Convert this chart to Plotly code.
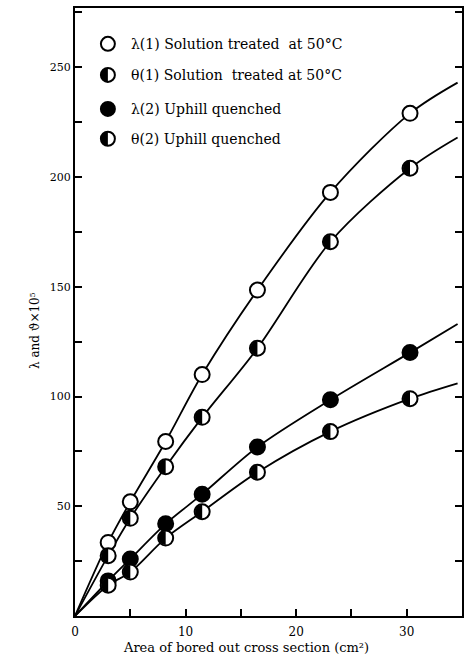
import plotly.graph_objects as go

# Bored-out cross-section area (cm^2) at each measurement
area = [3.0, 5.0, 8.2, 11.5, 16.5, 23.1, 30.3]

# lambda and theta (x10^5) for the two heat treatments
lam1 = [33.5, 52, 79.5, 110, 148.5, 193, 229]
theta1 = [27.5, 44.5, 68, 90.5, 122, 170.5, 204]
lam2 = [16, 26, 42, 55.5, 77, 98.5, 120]
theta2 = [14, 20, 35.5, 47.5, 65.5, 84, 99]

# Where each smooth curve ends at the right edge of the plot
curve_end_x = 34.6
lam1_end = 243
theta1_end = 218
lam2_end = 133
theta2_end = 106

x_ticks = [0, 10, 20, 30]
y_ticks = [50, 100, 150, 200, 250]

labels = [
    "λ(1) Solution treated  at 50°C",
    "θ(1) Solution  treated at 50°C",
    "λ(2) Uphill quenched",
    "θ(2) Uphill quenched",
]

FONT = "DejaVu Serif"
R = 7  # marker radius in pixels
K = 0.5523 * R

fig = go.Figure()

series = [
    (lam1, lam1_end, "open"),
    (theta1, theta1_end, "half"),
    (lam2, lam2_end, "full"),
    (theta2, theta2_end, "half"),
]

# Smooth fitted curves from the origin through the points
for vals, end, _ in series:
    fig.add_trace(go.Scatter(
        x=[0] + area + [curve_end_x], y=[0] + vals + [end],
        mode="lines", line=dict(color="black", width=1.8, shape="spline", smoothing=0.9),
        hoverinfo="skip", showlegend=False,
    ))

# Markers
for vals, _, kind in series:
    fill = "black" if kind == "full" else "white"
    fig.add_trace(go.Scatter(
        x=area, y=vals, mode="markers",
        marker=dict(symbol="circle", size=2 * R + 1, color=fill,
                    line=dict(color="black", width=2)),
        showlegend=False,
    ))

# Left half of a circle, in pixels about its anchor
half_path = (f"M 0,{R} C {-K},{R} {-R},{K} {-R},0 "
             f"C {-R},{-K} {-K},{-R} 0,{-R} Z")

shapes = []
for vals in (theta1, theta2):
    for xv, yv in zip(area, vals):
        shapes.append(dict(
            type="path", xref="x", yref="y", xsizemode="pixel", ysizemode="pixel",
            xanchor=xv, yanchor=yv, path=half_path,
            fillcolor="black", line=dict(width=0), layer="above",
        ))

# Key in the upper-left corner
key_x = 0.085
key_text_x = 0.139
key_y = [0.941, 0.890, 0.834, 0.785]
kinds = ["open", "half", "full", "half"]
annotations = []
for ky, kind, lab in zip(key_y, kinds, labels):
    shapes.append(dict(
        type="circle", xref="paper", yref="paper", xsizemode="pixel", ysizemode="pixel",
        xanchor=key_x, yanchor=ky, x0=-R, x1=R, y0=-R, y1=R,
        fillcolor="black" if kind == "full" else "white",
        line=dict(color="black", width=2), layer="above",
    ))
    if kind == "half":
        shapes.append(dict(
            type="path", xref="paper", yref="paper", xsizemode="pixel", ysizemode="pixel",
            xanchor=key_x, yanchor=ky, path=half_path,
            fillcolor="black", line=dict(width=0), layer="above",
        ))
    annotations.append(dict(
        x=key_text_x, y=ky, xref="paper", yref="paper", text=lab,
        showarrow=False, xanchor="left", yanchor="middle",
        font=dict(family=FONT, size=14, color="black"),
    ))

# Axis titles
annotations.append(dict(
    x=0.443, y=-0.052, xref="paper", yref="paper",
    text="Area of bored out cross section (cm²)", showarrow=False,
    xanchor="center", yanchor="middle", font=dict(family=FONT, size=13, color="black"),
))
annotations.append(dict(
    x=-0.103, y=0.469, xref="paper", yref="paper", textangle=-90,
    text="λ and ϑ×10⁵", showarrow=False,
    xanchor="center", yanchor="middle", font=dict(family=FONT, size=12, color="black"),
))

fig.update_layout(
    width=470, height=657,
    margin=dict(l=75, r=7, t=6, b=41),
    paper_bgcolor="white", plot_bgcolor="white",
    showlegend=False,
    shapes=shapes, annotations=annotations,
    font=dict(family=FONT, size=12, color="black"),
)

fig.update_xaxes(
    range=[0, 35], tickvals=x_ticks, ticks="inside", ticklen=7, tickwidth=1.5,
    tickcolor="black", showgrid=False, zeroline=False,
    showline=True, linecolor="black", linewidth=2, mirror=True,
    minor=dict(dtick=5, ticks="inside", ticklen=7, tickwidth=1.5, tickcolor="black"),
    tickfont=dict(family=FONT, size=12), ticklabelstandoff=4,
)
fig.update_yaxes(
    range=[0, 277], tickvals=y_ticks, ticks="inside", ticklen=7, tickwidth=1.5,
    tickcolor="black", showgrid=False, zeroline=False,
    showline=True, linecolor="black", linewidth=2, mirror="allticks",
    minor=dict(dtick=25, ticks="inside", ticklen=7, tickwidth=1.5, tickcolor="black"),
    tickfont=dict(family=FONT, size=11),
)

fig.write_html("out.html")
